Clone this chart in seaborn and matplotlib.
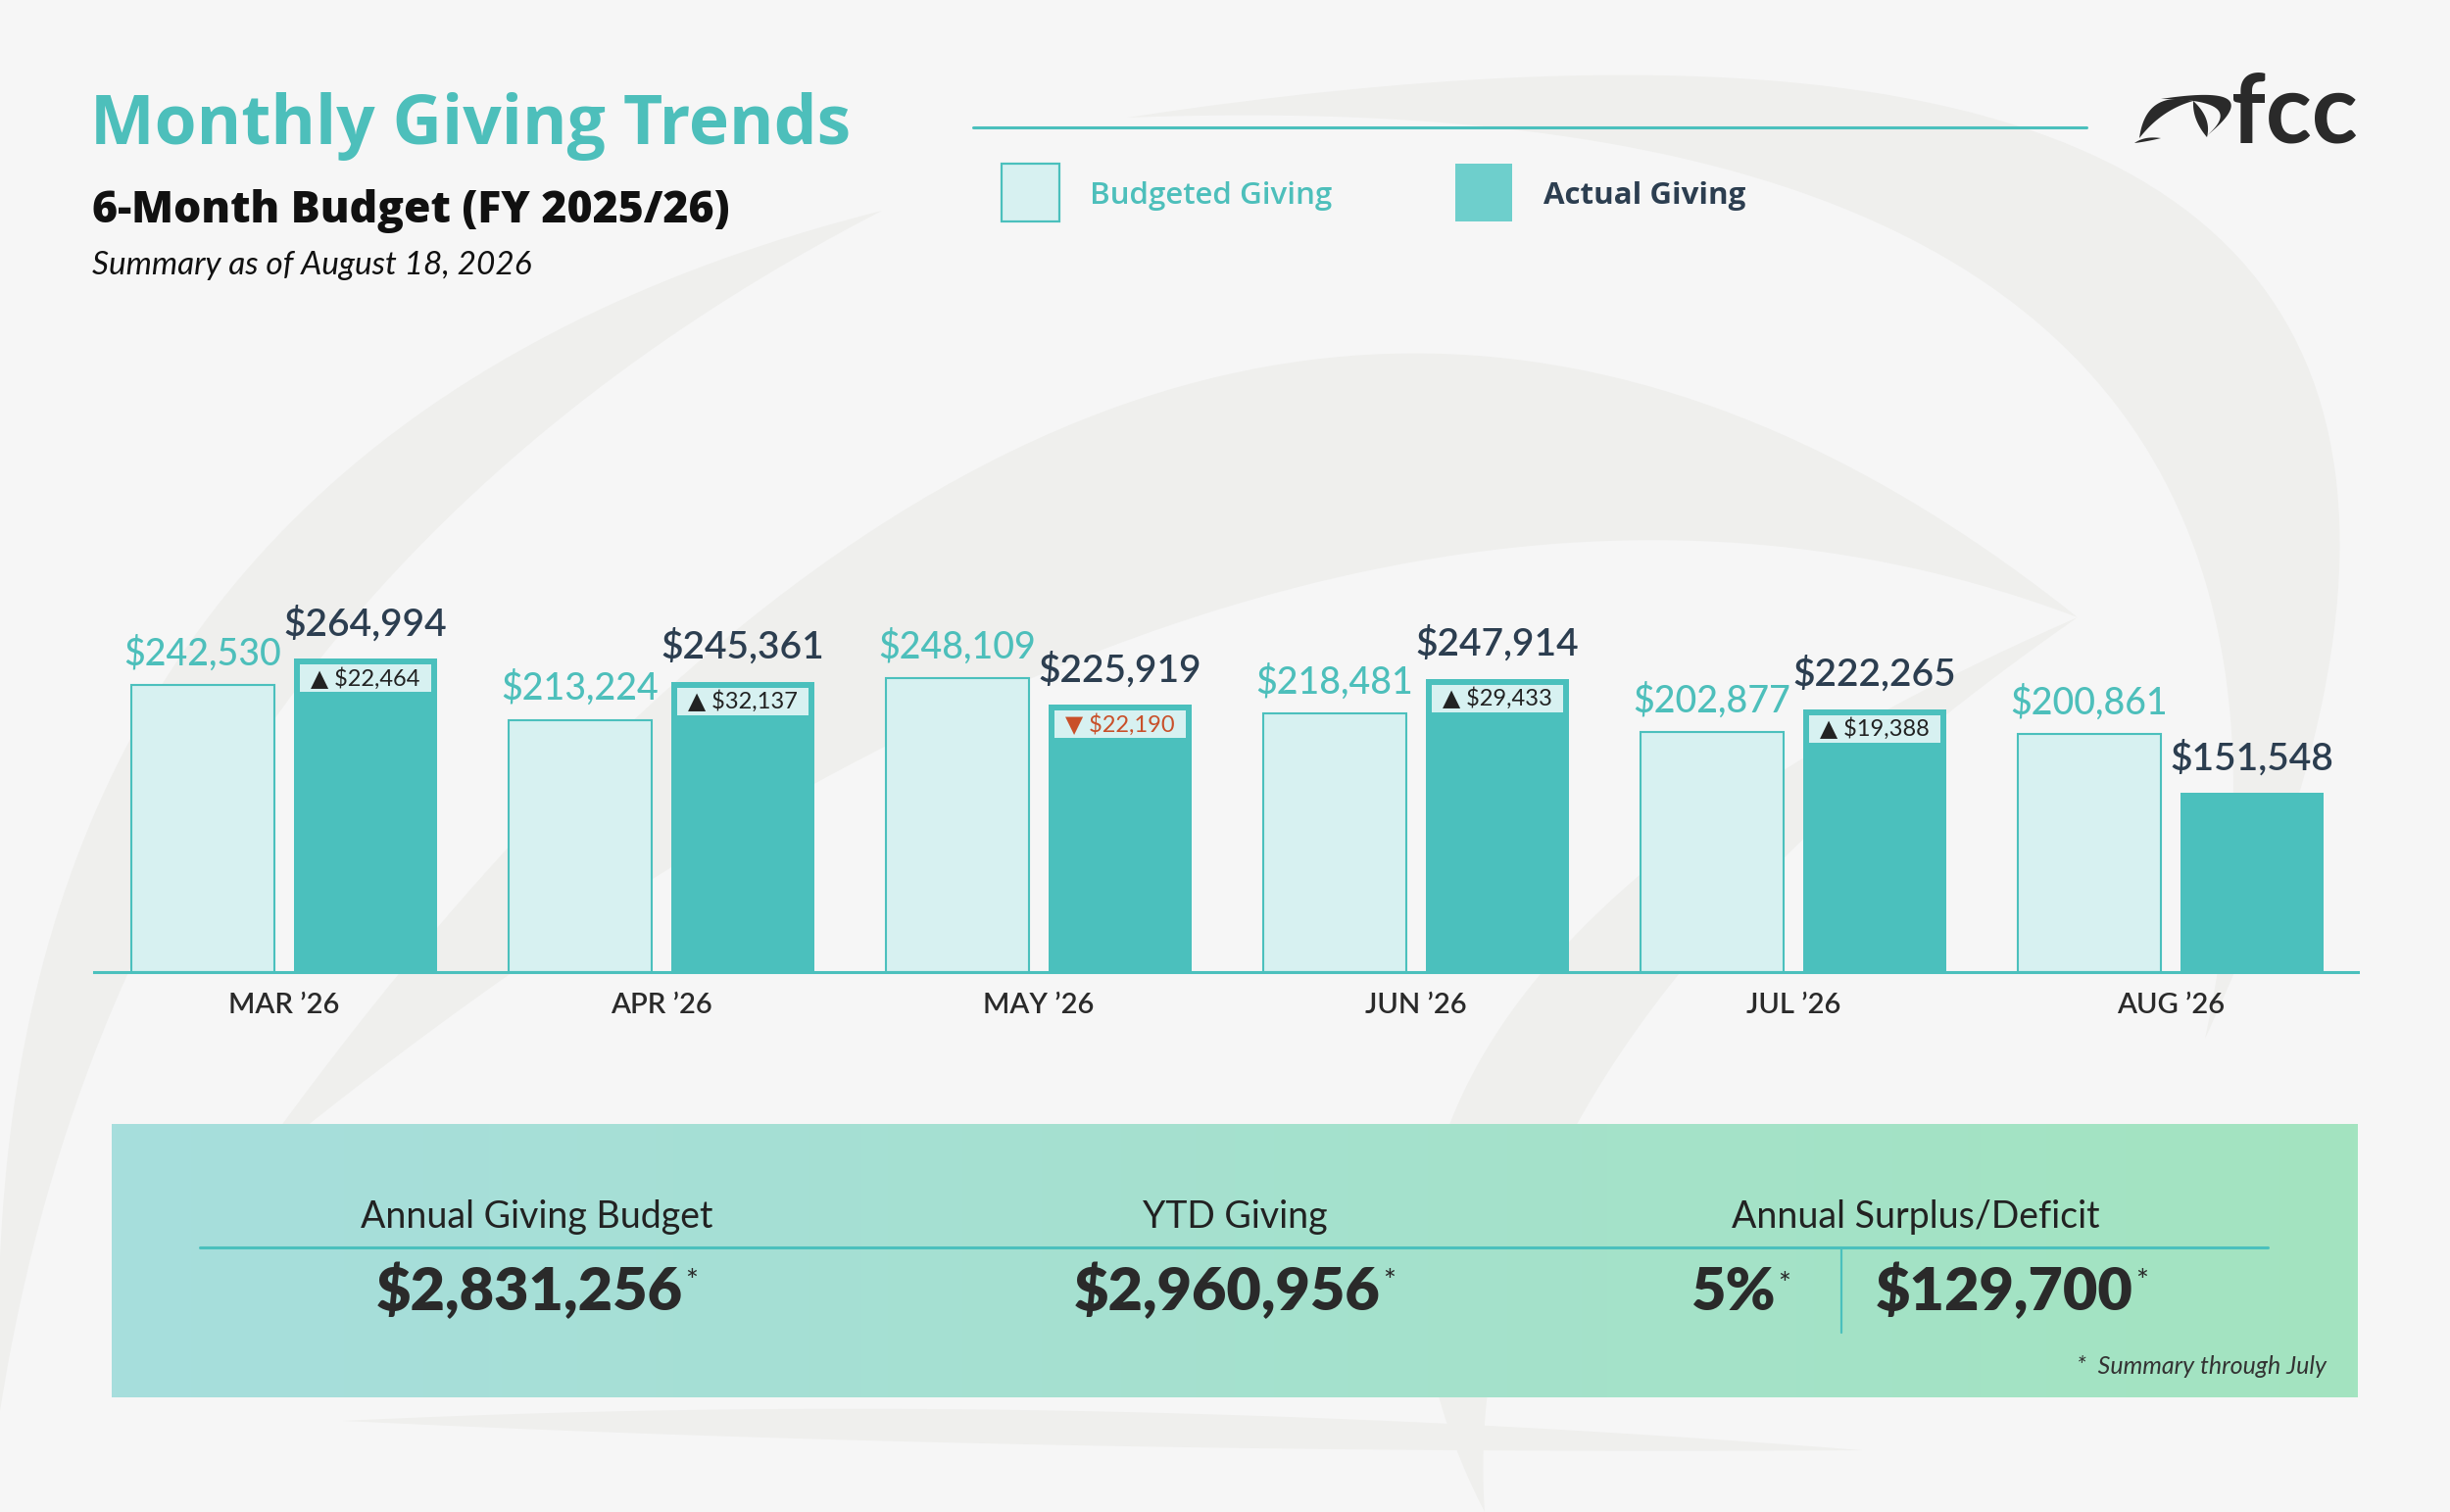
import numpy as np
import pandas as pd
import matplotlib
matplotlib.use("Agg")
import matplotlib.pyplot as plt
import matplotlib.colors as mcolors
import seaborn as sns
from matplotlib.patches import Rectangle, Polygon
from matplotlib.lines import Line2D

# ---------------- data ----------------
months = ["MAR ’26", "APR ’26", "MAY ’26", "JUN ’26", "JUL ’26", "AUG ’26"]
budgeted = [242530, 213224, 248109, 218481, 202877, 200861]
actual = [264994, 245361, 225919, 247914, 222265, 151548]
variance = [22464, 32137, -22190, 29433, 19388, None]
series_names = ["Budgeted Giving", "Actual Giving"]

summary_headers = ["Annual Giving Budget", "YTD Giving", "Annual Surplus/Deficit"]
annual_budget = 2831256
ytd_giving = 2960956
surplus_pct = 5
surplus_amount = 129700
footnote = "*  Summary through July"

title = "Monthly Giving Trends"
subtitle = "6-Month Budget (FY 2025/26)"
as_of = "Summary as of August 18, 2026"
logo_text = "fcc"

# ---------------- style ----------------
TEAL = "#4BC0BD"
TEAL_TXT = "#4DBFBB"
LIGHT = "#D7F1F1"
LEG_ACT = "#6ECFCC"
NAVY = "#2C3E50"
DARK = "#2A2A2A"
RED = "#C9502A"
BG = "#F6F6F6"
SWOOSH = "#EFEFED"
WIDE = ["Open Sans", "Lato", "DejaVu Sans"]

W, H = 2500, 1543
sns.set_theme(style="white")
plt.rcParams["font.family"] = ["Lato", "DejaVu Sans"]

fig = plt.figure(figsize=(W / 100, H / 100), dpi=100, facecolor=BG)


def F(x, y):
    return (x / W, 1 - y / H)


def bez(p0, c, p1, n=90):
    t = np.linspace(0, 1, n)[:, None]
    p0, c, p1 = map(np.asarray, (p0, c, p1))
    return (1 - t) ** 2 * p0 + 2 * t * (1 - t) * c + t ** 2 * p1


def lens(p0, p1, m_out, m_in, color=SWOOSH, z=-5):
    p0 = np.asarray(p0, float)
    p1 = np.asarray(p1, float)
    avg = (p0 + p1) / 2
    c_out = 2 * np.asarray(m_out, float) - avg
    c_in = 2 * np.asarray(m_in, float) - avg
    pts = np.vstack([bez(p0, c_out, p1), bez(p1, c_in, p0)])
    pts = np.column_stack([pts[:, 0] / W, 1 - pts[:, 1] / H])
    fig.add_artist(Polygon(pts, closed=True, transform=fig.transFigure,
                           facecolor=color, edgecolor="none", zorder=z))


# background swooshes (decoration)
lens((1150, 120), (2250, 1060), (2250, 230), (2080, 330))
lens((0, 1440), (900, 215), (205, 640), (290, 720))
lens((250, 1200), (2120, 630), (1185, 400), (1250, 620))
lens((2120, 630), (1515, 1543), (1530, 1050), (1650, 1080))
lens((350, 1450), (1900, 1480), (1100, 1440), (1100, 1475))

# ---------------- header ----------------
fig.text(*F(92, 147), title, fontsize=50, fontweight="bold", family=WIDE, color=TEAL_TXT,
         va="baseline", ha="left")
fig.text(*F(94, 227), subtitle, fontsize=32, fontweight="heavy", family=WIDE, color="#111111",
         va="baseline", ha="left")
fig.text(*F(94, 280), as_of, fontsize=24, fontstyle="italic", color="#111111", va="baseline", ha="left")

fig.add_artist(Line2D([993 / W, 2129 / W], [1 - 130 / H] * 2, transform=fig.transFigure, color=TEAL, lw=2.2))

# legend
fig.add_artist(Rectangle(F(1022, 226), 59 / W, 59 / H, transform=fig.transFigure,
                         facecolor=LIGHT, edgecolor=TEAL, lw=1.6))
fig.text(*F(1112, 208), series_names[0], fontsize=22.5, fontweight="semibold", family=WIDE,
         color=TEAL_TXT, va="baseline")
fig.add_artist(Rectangle(F(1485, 226), 58 / W, 59 / H, transform=fig.transFigure,
                         facecolor=LEG_ACT, edgecolor="none"))
fig.text(*F(1575, 208), series_names[1], fontsize=22.5, fontweight="bold", family=WIDE,
         color=NAVY, va="baseline")

# logo
fig.text(*F(2406, 146), logo_text, fontsize=70, fontweight="bold", color=DARK, va="baseline", ha="right")
lens((2183, 141), (2238, 103), (2200, 107), (2208, 117), color=DARK, z=2)
lens((2238, 103), (2252, 140), (2251, 121), (2241, 122), color=DARK, z=2)
lens((2205, 101), (2250, 140), (2274, 102), (2262, 111), color=DARK, z=2)
lens((2178, 146), (2205, 141), (2190, 141), (2191, 144), color=DARK, z=2)

# ---------------- bar chart ----------------
ax = fig.add_axes([96 / W, 1 - 992 / H, 2310 / W, 483 / H])
ax.patch.set_alpha(0)

df = pd.DataFrame({
    "Month": months * 2,
    "Series": [series_names[0]] * len(months) + [series_names[1]] * len(months),
    "Giving": budgeted + actual,
})
sns.barplot(data=df, x="Month", y="Giving", hue="Series", order=months, hue_order=series_names,
            palette=[LIGHT, TEAL], width=0.862, gap=0.125, saturation=1, errorbar=None,
            legend=False, ax=ax)

ax.set_ylim(0, 400000)
ax.set_xlim(-0.504, 5.496)
ax.set_xlabel("")
ax.set_ylabel("")
ax.set_yticks([])
for s in ["top", "right", "left"]:
    ax.spines[s].set_visible(False)
ax.spines["bottom"].set_color(TEAL)
ax.spines["bottom"].set_linewidth(2.2)
ax.tick_params(axis="x", length=0, pad=15, labelsize=21, labelcolor=DARK)
for lbl in ax.get_xticklabels():
    lbl.set_fontweight("semibold")

x0, x1 = ax.get_xlim()
sx = (x1 - x0) / 2310.0
sy = 400000 / 483.0

for p in list(ax.patches):
    cx = p.get_x() + p.get_width() / 2
    i = int(round(cx))
    h = p.get_height()
    if cx < i:
        p.set_edgecolor(TEAL)
        p.set_linewidth(1.5)
        ax.annotate(f"${budgeted[i]:,}", (cx, h), xytext=(0, 15), textcoords="offset points",
                    ha="center", va="baseline", fontsize=27, fontweight="medium", color=TEAL_TXT)
    else:
        p.set_edgecolor("none")
        ax.annotate(f"${actual[i]:,}", (cx, h), xytext=(0, 17), textcoords="offset points",
                    ha="center", va="baseline", fontsize=28, fontweight="semibold", color=NAVY)
        v = variance[i]
        if v is not None:
            ax.add_patch(Rectangle((p.get_x() + 6 * sx, h - 34 * sy), p.get_width() - 12 * sx, 28 * sy,
                                   facecolor=LIGHT, edgecolor="none", zorder=3))
            sym = "▲" if v > 0 else "▼"
            col = "#222222" if v > 0 else RED
            ax.text(cx, h - 20 * sy, f"{sym} ${abs(v):,}", ha="center", va="center",
                    fontsize=17, color=col, zorder=4)

# ---------------- summary panel ----------------
pax = fig.add_axes([114 / W, 1 - 1426 / H, 2292 / W, 279 / H])
g = np.linspace(0, 1, 512)[None, :, None]
c0 = np.array(mcolors.to_rgb("#A7DEDD"))
c1 = np.array(mcolors.to_rgb("#A3E4C0"))
pax.imshow(c0 * (1 - g) + c1 * g, aspect="auto", extent=[0, 1, 0, 1])
pax.set_axis_off()

hdr_x = [548, 1260, 1955]
for hx, txt in zip(hdr_x, summary_headers):
    fig.text(*F(hx, 1253), txt, fontsize=27, color="#222222", ha="center", va="baseline")

fig.add_artist(Line2D([204 / W, 2314 / W], [1 - 1273 / H] * 2, transform=fig.transFigure, color=TEAL, lw=2.2))
fig.add_artist(Line2D([1879 / W] * 2, [1 - 1273 / H, 1 - 1360 / H], transform=fig.transFigure, color=TEAL, lw=1.6))

vals = [(540, f"${annual_budget:,}"), (1252, f"${ytd_giving:,}"),
        (1768, f"{surplus_pct}%"), (2045, f"${surplus_amount:,}")]
for vx, txt in vals:
    t = fig.text(*F(vx, 1337), txt, fontsize=44, fontweight="heavy", color=DARK, ha="center", va="baseline")
    pax.annotate("*", xy=(1, 1), xycoords=t, xytext=(2, -4), textcoords="offset points",
                 ha="left", va="top", fontsize=22, color=DARK)

fig.text(*F(2374, 1402), footnote, fontsize=18, fontstyle="italic", color="#333333", ha="right", va="baseline")

fig.savefig("out.png", dpi=100, facecolor=BG)
